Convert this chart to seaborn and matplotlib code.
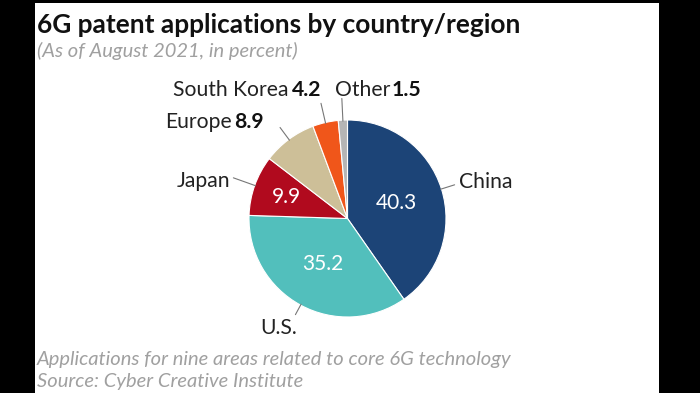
import numpy as np
import matplotlib
matplotlib.use("Agg")
import matplotlib.pyplot as plt
import seaborn as sns

# data
regions = ["China", "U.S.", "Japan", "Europe", "South Korea", "Other"]
shares = [40.3, 35.2, 9.9, 8.9, 4.2, 1.5]
share_labels = ["40.3", "35.2", "9.9", "8.9", "4.2", "1.5"]
colors = ["#1c4477", "#52bfbc", "#b10a1e", "#cdbf98", "#f0561a", "#b5b5b5"]

sns.set_theme(style="white")
plt.rcParams["font.family"] = ["Lato", "DejaVu Sans"]

fig = plt.figure(figsize=(7, 3.93), dpi=100, facecolor="black")
W, H = 700, 393

# white card on black background
fig.patches.append(plt.Rectangle((35 / W, 0), (659 - 35) / W, (H - 3) / H,
                                 transform=fig.transFigure, facecolor="white",
                                 edgecolor="none", zorder=-5))

fig.text(37 / W, 1 - 25 / H, "6G patent applications by country/region",
         fontsize=18.9, fontweight="bold", color="#111111", va="center")
note = dict(fontsize=14.5, style="italic", color="#a0a0a0", va="center")
fig.text(37 / W, 1 - 51 / H, "(As of August 2021, in percent)", **note)
fig.text(37 / W, 1 - 360 / H, "Applications for nine areas related to core 6G technology", **note)
fig.text(37 / W, 1 - 381 / H, "Source: Cyber Creative Institute", **note)

# pie axes: centre (347.5, 218.5) px, radius 98.5 px
cx, cy, r = 347.5, 218.5, 98.5
ax = fig.add_axes([(cx - r) / W, 1 - (cy + r) / H, 2 * r / W, 2 * r / H])
ax.set_facecolor("none")
wedges, _ = ax.pie(shares, colors=colors, startangle=90, counterclock=False,
                   wedgeprops=dict(edgecolor="white", linewidth=0.8))
ax.set_xlim(-1, 1)
ax.set_ylim(-1, 1)
ax.set_aspect("equal")
ax.axis("off")

def mid_angle(w):
    return np.deg2rad((w.theta1 + w.theta2) / 2)

# values printed inside the three big slices
inside = {"China": 0.52, "U.S.": 0.52, "Japan": 0.66}
for w, name, lab in zip(wedges, regions, share_labels):
    if name in inside:
        a = mid_angle(w)
        ax.text(inside[name] * np.cos(a), inside[name] * np.sin(a), lab,
                ha="center", va="center", color="white", fontsize=15)

# outside labels: leader length, text offset (px), alignment, show value
outside = {
    "China":       (1.14, (4, 3), "left", False),
    "U.S.":        (1.11, (2, -13), "right", False),
    "Japan":       (1.23, (-3, -3), "right", False),
    "Europe":      (1.15, (-16, 5), "right", True),
    "South Korea": (1.20, (0, 13), "right", True),
    "Other":       (1.22, (-7, 8), "left", True),
}
lab_size = 15.2
px2pt = 72 / 100
for w, name, lab in zip(wedges, regions, share_labels):
    rout, (dx, dy), ha, show_val = outside[name]
    a = mid_angle(w)
    x0, y0 = 0.99 * np.cos(a), 0.99 * np.sin(a)
    x1, y1 = rout * np.cos(a), rout * np.sin(a)
    ax.plot([x0, x1], [y0, y1], color="#777777", lw=0.8, clip_on=False)
    off = (dx * px2pt, dy * px2pt)
    if not show_val:
        ax.annotate(name, (x1, y1), xytext=off, textcoords="offset points",
                    ha=ha, va="center", fontsize=lab_size, color="#222222",
                    annotation_clip=False)
    elif ha == "right":
        v = ax.annotate(lab, (x1, y1), xytext=off, textcoords="offset points",
                        ha="right", va="center", fontsize=lab_size, fontweight="bold",
                        color="#111111", annotation_clip=False)
        ax.annotate(name, (0, 0.5), xycoords=v, xytext=(-2, 0),
                    textcoords="offset points", ha="right", va="center",
                    fontsize=lab_size, color="#222222")
    else:
        n = ax.annotate(name, (x1, y1), xytext=off, textcoords="offset points",
                        ha="left", va="center", fontsize=lab_size, color="#222222",
                        annotation_clip=False)
        ax.annotate(lab, (1, 0.5), xycoords=n, xytext=(1, 0),
                    textcoords="offset points", ha="left", va="center",
                    fontsize=lab_size, fontweight="bold", color="#111111")

fig.savefig("out.png", dpi=100, facecolor=fig.get_facecolor())
